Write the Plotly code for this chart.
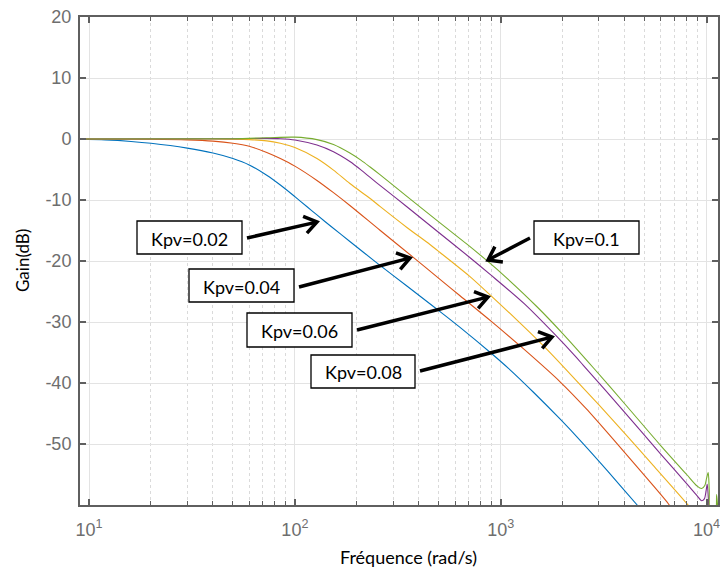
import math
import plotly.graph_objects as go

# ---------------- data ----------------
series_names = ["Kpv=0.02", "Kpv=0.04", "Kpv=0.06", "Kpv=0.08", "Kpv=0.1"]
series_colors = ["#0072BD", "#D95319", "#EDB120", "#7E2F8E", "#77AC30"]

freq_k002 = [9, 12, 16, 20, 30, 40, 50, 60, 73, 85, 100, 115, 128, 150, 185, 250, 350,
             490, 630, 890, 1090, 1450, 1940, 2430, 3300, 4600, 5200]
gain_k002 = [-0.05, -0.15, -0.4, -0.7, -1.5, -2.3, -3.2, -4.25, -5.95, -7.55, -9.45, -11.15,
             -12.45, -14.35, -16.8, -20.3, -24.1, -27.9, -30.8, -35.0, -37.6, -41.6, -45.9,
             -49.4, -54.4, -60.0, -62.0]

freq_k004 = [9, 20, 30, 40, 50, 60, 73, 85, 100, 128, 154, 185, 260, 376, 507, 634, 900,
             1300, 1942, 2600, 3515, 4800, 6518, 7200]
gain_k004 = [0.0, -0.05, -0.15, -0.35, -0.7, -1.2, -2.2, -3.2, -4.45, -6.8, -8.8, -10.9, -15.0,
             -19.4, -23.0, -25.7, -29.9, -34.5, -39.8, -44.2, -49.2, -54.5, -59.8, -62.0]

freq_k006 = [9, 40, 60, 73, 85, 100, 128, 154, 185, 233, 259, 350, 453, 507, 700, 871, 1200,
             1600, 2050, 3000, 4084, 5500, 8080, 8800, 9400, 9900, 10100, 10250]
gain_k006 = [0.0, 0.0, -0.1, -0.3, -0.7, -1.4, -3.2, -5.1, -7.3, -9.8, -11.05, -14.5, -17.3,
             -18.6, -22.4, -25.3, -29.7, -33.8, -37.6, -43.6, -48.6, -53.5, -59.9, -61.5,
             -62.5, -62.0, -59.5, -63.0]

freq_k008 = [9, 50, 73, 85, 100, 128, 154, 185, 210, 232, 259, 350, 507, 700, 888, 1300, 1803,
             2300, 2518, 4000, 6000, 8000, 9000, 9463, 9750, 9950, 10070, 10180, 10300]
gain_k008 = [0.0, 0.05, 0.1, 0.05, -0.15, -1.0, -2.1, -3.7, -5.1, -6.3, -7.6, -11.1, -15.5,
             -19.3, -22.2, -27.0, -31.8, -35.6, -37.1, -44.8, -51.7, -56.5, -58.5, -59.3,
             -59.0, -57.6, -56.6, -58.5, -62.0]

freq_k01 = [9, 50, 73, 100, 128, 154, 185, 210, 232, 259, 350, 507, 683, 854, 1000, 1500,
            2000, 2817, 4000, 6000, 8000, 9000, 9463, 9800, 10000, 10180, 10300, 10450,
            11000, 11190, 11400]
gain_k01 = [0.0, 0.05, 0.2, 0.3, -0.1, -0.9, -2.3, -3.5, -4.6, -5.85, -9.4, -13.75, -17.2,
            -19.9, -21.9, -27.5, -31.9, -37.5, -43.4, -50.3, -55.0, -56.9, -57.3, -56.8,
            -55.6, -54.7, -57.5, -62.0, -62.0, -58.3, -62.0]

x_tick_vals = [10, 100, 1000, 10000]
x_tick_text = ["10<sup>1</sup>", "10<sup>2</sup>", "10<sup>3</sup>", "10<sup>4</sup>"]
x_minor_vals = [m * d for d in (10, 100, 1000) for m in range(2, 10)]
y_tick_vals = [-50, -40, -30, -20, -10, 0, 10, 20]
y_tick_text = ["-50", "-40", "-30", "-20", "-10", "0", "10", "20"]

freqs = [freq_k002, freq_k004, freq_k006, freq_k008, freq_k01]
gains = [gain_k002, gain_k004, gain_k006, gain_k008, gain_k01]

# annotation layout (pixel positions in the 720x573 picture)
box_px = [(137, 221, 242, 254), (189, 269, 294, 302), (247, 313, 352, 347),
          (311, 355, 415, 388), (534, 221, 639, 254)]
arrow_px = [((247, 238), (317, 222)), ((299, 287), (410, 258)), ((357, 330), (488, 297)),
            ((420, 371), (552, 337)), ((530, 238), (488, 260))]

# ---------------- figure ----------------
W, H = 730, 573                 # a bit wider than the window so the 10^4 label is kept
L, R, T, B = 80, 718, 17, 505   # plot area in the picture

fig = go.Figure()
for f, g, c, n in zip(freqs, gains, series_colors, series_names):
    fig.add_trace(go.Scatter(x=f, y=g, mode="lines", name=n, showlegend=False,
                             line=dict(color=c, width=1.1, shape="spline", smoothing=0.8),
                             hoverinfo="skip"))


def p(x, y):
    return ((x - L) / (R - L), (B - y) / (B - T))


shapes = []
annotations = []
for (x0, y0, x1, y1), name in zip(box_px, series_names):
    a = p(x0, y1)
    b = p(x1, y0)
    shapes.append(dict(type="rect", xref="paper", yref="paper", x0=a[0], y0=a[1], x1=b[0], y1=b[1],
                       line=dict(color="black", width=1.3), fillcolor="white", layer="above"))
    cx, cy = p((x0 + x1) / 2, (y0 + y1) / 2 + 1)
    annotations.append(dict(xref="paper", yref="paper", x=cx, y=cy, text=name, showarrow=False,
                            font=dict(family="Lato", size=18, color="black"),
                            xanchor="center", yanchor="middle"))

for (tx, ty), (hx, hy) in arrow_px:
    dx, dy = hx - tx, hy - ty
    n = math.hypot(dx, dy)
    ux, uy = dx / n, dy / n
    arms = []
    for ang in (math.radians(35), -math.radians(35)):
        rx = ux * math.cos(ang) - uy * math.sin(ang)
        ry = ux * math.sin(ang) + uy * math.cos(ang)
        arms.append((hx - 15 * rx, hy - 15 * ry))
    t0 = p(tx, ty)
    h0 = p(hx - 1.5 * ux, hy - 1.5 * uy)
    shapes.append(dict(type="line", xref="paper", yref="paper", x0=t0[0], y0=t0[1], x1=h0[0], y1=h0[1],
                       line=dict(color="black", width=3.5), layer="above"))
    a1, hh, a2 = p(*arms[0]), p(hx, hy), p(*arms[1])
    path = f"M {a1[0]},{a1[1]} L {hh[0]},{hh[1]} L {a2[0]},{a2[1]}"
    shapes.append(dict(type="path", xref="paper", yref="paper", path=path,
                       line=dict(color="black", width=3.5), layer="above"))

# axis titles
gx, gy = p(22, 261)
annotations.append(dict(xref="paper", yref="paper", x=gx, y=gy, text="Gain(dB)", showarrow=False,
                        textangle=-90, font=dict(family="Lato", size=17, color="black"),
                        xanchor="center", yanchor="middle"))
fx, fy = p(408, 557)
annotations.append(dict(xref="paper", yref="paper", x=fx, y=fy, text="Fréquence (rad/s)",
                        showarrow=False, font=dict(family="Lato", size=18, color="black"),
                        xanchor="center", yanchor="middle"))

axis_line = "#5f5f5f"
tick_font = dict(family="Liberation Sans", size=18, color="#6e6e6e")

fig.update_layout(
    width=W, height=H,
    margin=dict(l=L, r=W - R, t=T, b=H - B, autoexpand=False),
    paper_bgcolor="white", plot_bgcolor="white",
    shapes=shapes, annotations=annotations,
    xaxis=dict(type="log", range=[math.log10(9.04), math.log10(11360)], automargin=False,
               tickvals=x_tick_vals, ticktext=x_tick_text,
               ticks="inside", ticklen=6, tickwidth=1.5, tickcolor=axis_line,
               showline=True, linecolor=axis_line, linewidth=2, mirror="ticks",
               showgrid=True, gridcolor="#e3e3e3", gridwidth=1, zeroline=False,
               tickfont=tick_font, ticklabelstandoff=7,
               minor=dict(tickvals=x_minor_vals, ticks="inside", ticklen=4, tickwidth=1,
                          tickcolor=axis_line, showgrid=True, gridcolor="#dadada",
                          griddash="dot", gridwidth=1)),
    yaxis=dict(range=[-60, 20], tickvals=y_tick_vals, ticktext=y_tick_text, automargin=False,
               ticks="inside", ticklen=6, tickwidth=1.5, tickcolor=axis_line,
               showline=True, linecolor=axis_line, linewidth=2, mirror="ticks",
               showgrid=True, gridcolor="#e3e3e3", gridwidth=1, zeroline=False,
               tickfont=tick_font, ticklabelstandoff=3),
)

# remove the page's default body margin so the figure sits at the window origin
fig.write_html("out.html", config={"displayModeBar": False},
               post_script="document.body.style.margin='0px';document.body.style.overflow='hidden';")
